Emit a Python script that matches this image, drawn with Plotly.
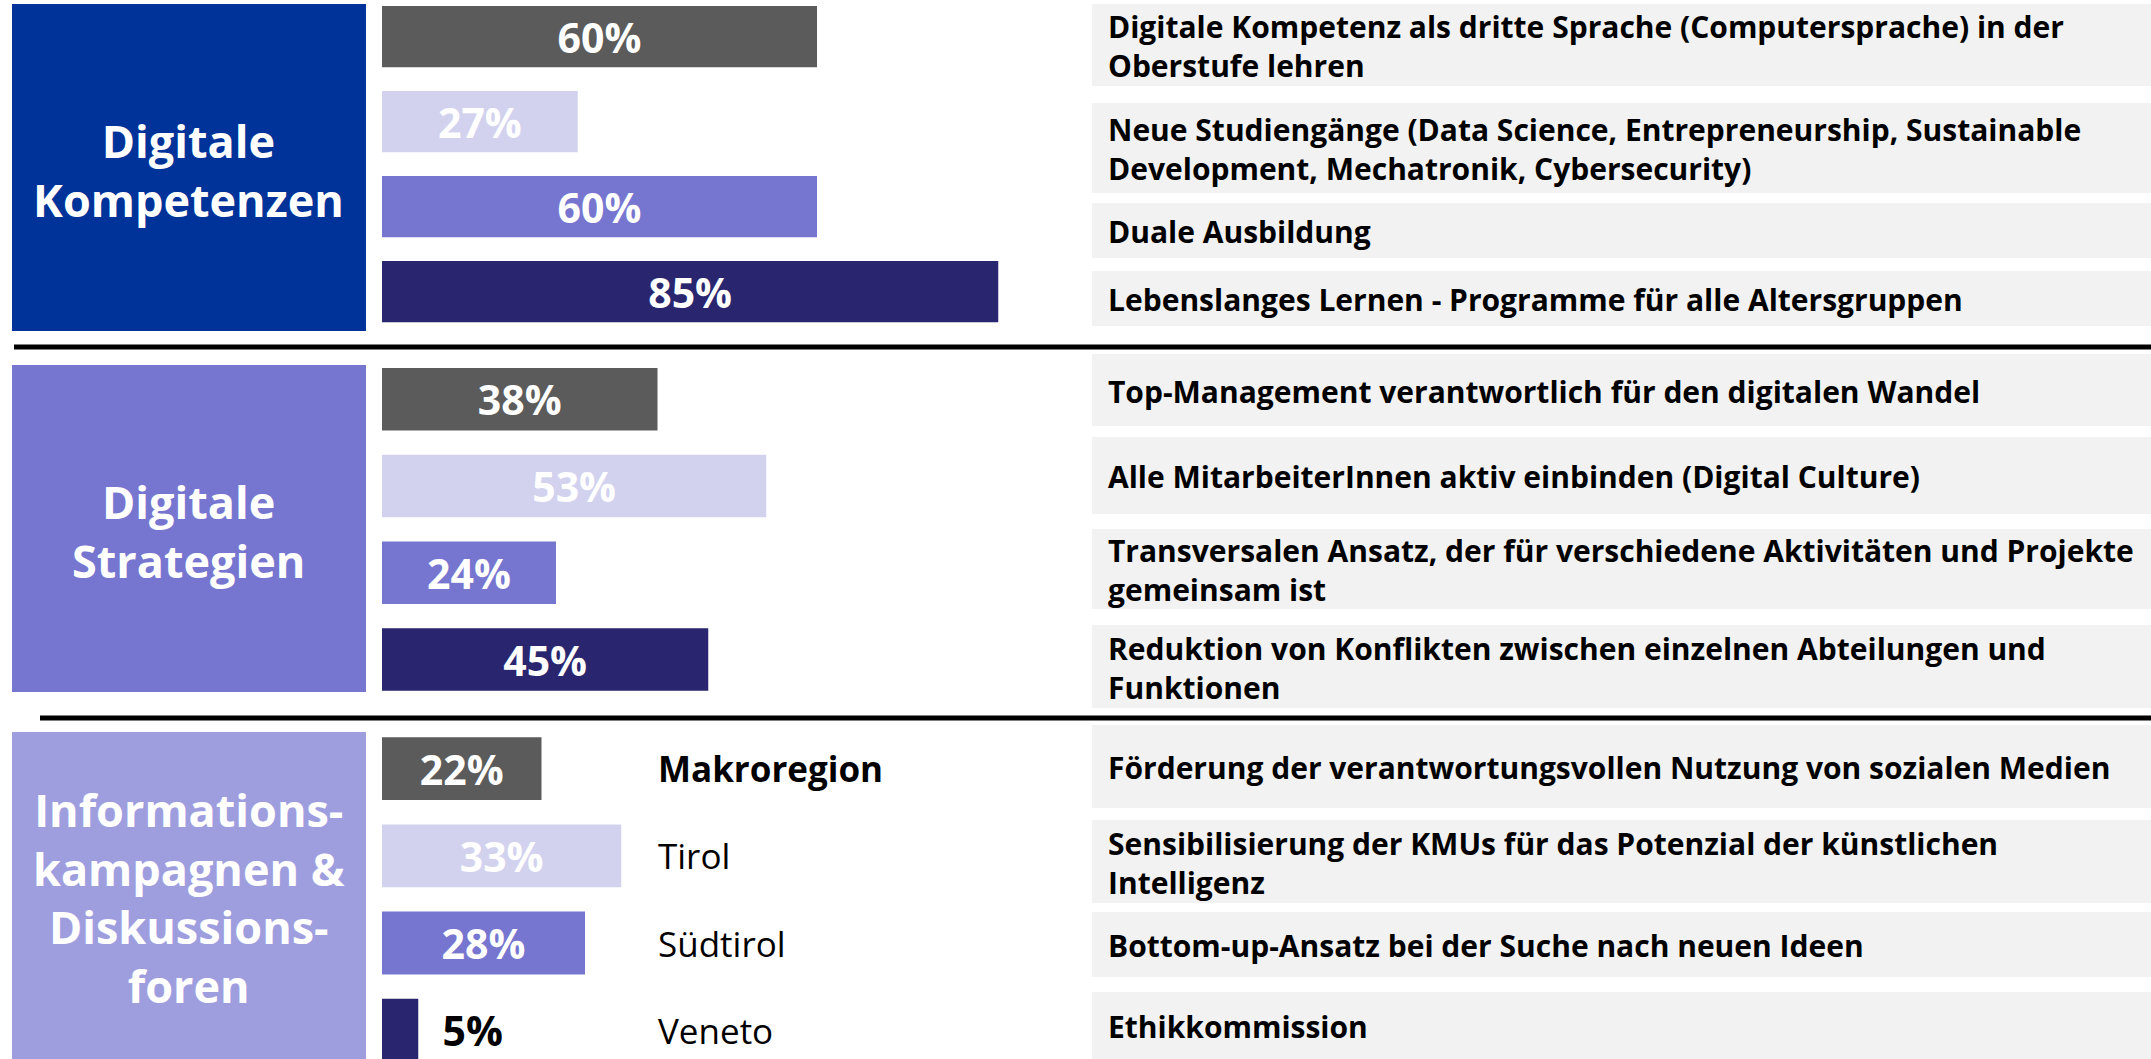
import plotly.graph_objects as go

# data ---------------------------------------------------------------
regions = ["Makroregion", "Tirol", "Südtirol", "Veneto"]
region_colors = ["#5b5b5b", "#d2d2ef", "#7676d0", "#29266f"]

sections = ["Digitale<br>Kompetenzen", "Digitale<br>Strategien",
            "Informations-<br>kampagnen &<br>Diskussions-<br>foren"]
section_colors = ["#003399", "#7676d0", "#9e9edf"]

kompetenzen = [60, 27, 60, 85]
strategien = [38, 53, 24, 45]
kampagnen = [22, 33, 28, 5]

kompetenzen_items = ["Digitale Kompetenz als dritte Sprache (Computersprache) in der<br>Oberstufe lehren",
                     "Neue Studiengänge (Data Science, Entrepreneurship, Sustainable<br>Development, Mechatronik, Cybersecurity)",
                     "Duale Ausbildung",
                     "Lebenslanges Lernen - Programme für alle Altersgruppen"]
strategien_items = ["Top-Management verantwortlich für den digitalen Wandel",
                    "Alle MitarbeiterInnen aktiv einbinden (Digital Culture)",
                    "Transversalen Ansatz, der für verschiedene Aktivitäten und Projekte<br>gemeinsam ist",
                    "Reduktion von Konflikten zwischen einzelnen Abteilungen und<br>Funktionen"]
kampagnen_items = ["Förderung der verantwortungsvollen Nutzung von sozialen Medien",
                   "Sensibilisierung der KMUs für das Potenzial der künstlichen<br>Intelligenz",
                   "Bottom-up-Ansatz bei der Suche nach neuen Ideen",
                   "Ethikkommission"]

values = [kompetenzen, strategien, kampagnen]
items = [kompetenzen_items, strategien_items, kampagnen_items]

# layout helpers (pixel geometry of the page) --------------------------
W, H = 2151, 1059
FONT = "Open Sans"
def px(x): return x / W
def py(y): return 1 - y / H

row_px = [(0, 340), (355, 703), (725, 1059)]          # vertical bands of the bar rows
row_range = [[3.57, -0.43], [3.5, -0.51], [3.33, -0.5]]
box_px = [(4, 331), (365, 692), (732, 1059)]          # left section boxes
panel_px = [[(4, 86), (103, 193), (203, 258), (271, 326)],
            [(354, 426), (437, 514), (529, 609), (625, 708)],
            [(725, 808), (820, 903), (912, 977), (992, 1059)]]

fig = go.Figure()
shapes, annotations = [], []

for r in range(3):
    sfx = "" if r == 0 else str(r + 1)
    vals = values[r]
    fig.add_trace(go.Bar(
        x=vals, y=regions, orientation="h",
        xaxis="x" + sfx, yaxis="y" + sfx,
        marker=dict(color=region_colors, line=dict(width=0)),
        # small bars get their label outside, pushed a bit away from the bar
        text=[f"{v}%" if v >= 10 else f"\u00a0\u00a0{v}%" for v in vals],
        textposition=["inside" if v >= 10 else "outside" for v in vals],
        insidetextanchor="middle",
        insidetextfont=dict(family=FONT, size=41, color="white", weight="bold"),
        outsidetextfont=dict(family=FONT, size=41, color="black", weight="bold"),
        cliponaxis=False, showlegend=False, hoverinfo="skip",
    ))
    fig.update_layout({
        "xaxis" + sfx: dict(domain=[px(382), px(382 + 725)], range=[0, 100],
                            visible=False, anchor="y" + sfx),
        "yaxis" + sfx: dict(domain=[py(row_px[r][1]), py(row_px[r][0])],
                            range=row_range[r], type="category",
                            categoryorder="array", categoryarray=regions,
                            visible=False, anchor="x" + sfx),
    })

    # section box on the left
    y0, y1 = box_px[r]
    shapes.append(dict(type="rect", xref="paper", yref="paper",
                       x0=px(12), x1=px(366), y0=py(y1), y1=py(y0),
                       fillcolor=section_colors[r], line=dict(width=0), layer="below"))
    annotations.append(dict(xref="paper", yref="paper", x=px(189), y=py((y0 + y1) / 2 + 2),
                            xanchor="center", yanchor="middle",
                            text=sections[r], showarrow=False, align="center",
                            font=dict(family=FONT, size=45, color="white", weight="bold")))

    # grey statement panels
    for (t, b), label in zip(panel_px[r], items[r]):
        shapes.append(dict(type="rect", xref="paper", yref="paper",
                           x0=px(1092), x1=1, y0=py(b), y1=py(t),
                           fillcolor="#f2f2f2", line=dict(width=0), layer="below"))
        annotations.append(dict(xref="paper", yref="paper", x=px(1106), y=py((t + b) / 2 + 1),
                                xanchor="left", yanchor="middle", align="left",
                                text=label, showarrow=False,
                                font=dict(family=FONT, size=30, color="black", weight="bold")))

# region legend next to the last block
for i, reg in enumerate(regions):
    annotations.append(dict(xref="paper", yref="y3", x=px(656), y=reg,
                            xanchor="left", yanchor="middle", text=reg, showarrow=False,
                            font=dict(family=FONT, size=35, color="black",
                                      weight="bold" if i == 0 else "normal")))

# black separators between the blocks
shapes.append(dict(type="line", xref="paper", yref="paper", x0=px(14), x1=1,
                   y0=py(347), y1=py(347), line=dict(color="black", width=5)))
shapes.append(dict(type="line", xref="paper", yref="paper", x0=px(40), x1=1,
                   y0=py(718), y1=py(718), line=dict(color="black", width=5)))

fig.update_layout(
    width=W, height=H,
    margin=dict(l=0, r=0, t=0, b=0),
    paper_bgcolor="white", plot_bgcolor="white",
    bargap=0.28,
    uniformtext=dict(minsize=41, mode="show"),
    shapes=shapes, annotations=annotations,
    font=dict(family=FONT),
)

fig.write_html("out.html", config={"displayModeBar": False},
               post_script="document.body.style.margin='0';document.body.style.overflow='hidden';")
